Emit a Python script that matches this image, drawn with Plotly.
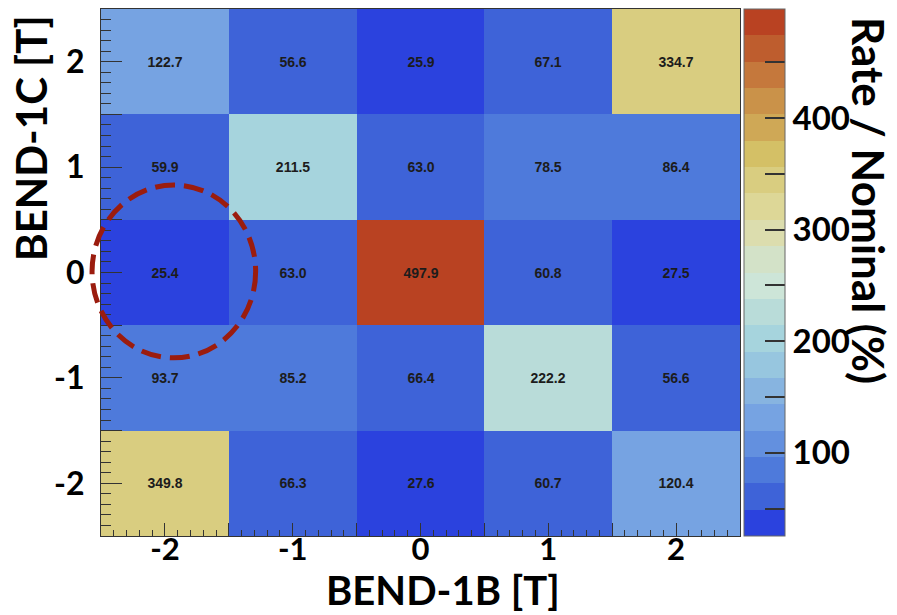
import plotly.graph_objects as go

# ---- data ----
bend_1b = [-2, -1, 0, 1, 2]          # x categories [T]
bend_1c = [-2, -1, 0, 1, 2]          # y categories [T]
rate_row_m2 = [349.8, 66.3, 27.6, 60.7, 120.4]
rate_row_m1 = [93.7, 85.2, 66.4, 222.2, 56.6]
rate_row_0 = [25.4, 63.0, 497.9, 60.8, 27.5]
rate_row_p1 = [59.9, 211.5, 63.0, 78.5, 86.4]
rate_row_p2 = [122.7, 56.6, 25.9, 67.1, 334.7]
z = [rate_row_m2, rate_row_m1, rate_row_0, rate_row_p1, rate_row_p2]

axis_tickvals = [-2.5, -2, -1.5, -1, -0.5, 0, 0.5, 1, 1.5, 2, 2.5]
axis_ticktext = ["", "-2", "", "-1", "", "0", "", "1", "", "2", ""]
cbar_tickvals = [50, 100, 150, 200, 250, 300, 350, 400, 450]
cbar_ticktext = ["", "100", "", "200", "", "300", "", "400", ""]

# ---- discrete 20-level palette (bottom -> top) ----
band_colors = ["#2B42DE", "#3E63D8", "#4E7ADB", "#6390DF", "#76A3E2",
               "#87B4E0", "#97C6DF", "#A6D4DD", "#B9DCD9", "#CDE5D8",
               "#D3E2C8", "#DCDDAE", "#DDD797", "#D9CD80", "#D4C066",
               "#CFA856", "#CA9249", "#C5783C", "#BE5D2E", "#B94222"]
n = len(band_colors)
colorscale = []
for i, c in enumerate(band_colors):
    colorscale.append([i / n, c])
    colorscale.append([(i + 1) / n, c])

zmin = min(min(r) for r in z)
zmax = max(max(r) for r in z)

FONT = "Lato"
fig = go.Figure()
fig.add_trace(go.Heatmap(
    x=bend_1b, y=bend_1c, z=z,
    zmin=zmin, zmax=zmax,
    colorscale=colorscale,
    texttemplate="%{z:.1f}",
    textfont=dict(family="Liberation Sans", size=14, color="#1c1c1c", weight="bold"),
    colorbar=dict(
        x=(744 - 101) / 639, xanchor="left", xpad=0, ypad=0,
        y=0.5, yanchor="middle", len=1, lenmode="fraction",
        thickness=41, thicknessmode="pixels",
        outlinewidth=1, outlinecolor="#666",
        tickmode="array", tickvals=cbar_tickvals, ticktext=cbar_ticktext,
        ticks="inside", ticklen=20, tickwidth=1.5, tickcolor="#333",
        tickfont=dict(family=FONT, size=33, color="black", weight="bold"),
    ),
))

fig.update_xaxes(
    range=[-2.5, 2.5], tickmode="array", tickvals=axis_tickvals, ticktext=axis_ticktext,
    ticks="inside", ticklen=13, tickwidth=1.2, tickcolor="#333",
    minor=dict(tickmode="linear", tick0=0, dtick=0.1, ticks="inside", ticklen=6,
               tickwidth=1, tickcolor="#333"),
    showline=True, linecolor="#333", linewidth=1, mirror=True,
    showgrid=False, zeroline=False, ticklabelstandoff=-14,
    tickfont=dict(family=FONT, size=31, color="black", weight="bold"),
)
fig.update_yaxes(
    range=[-2.5, 2.5], tickmode="array", tickvals=axis_tickvals, ticktext=axis_ticktext,
    ticks="inside", ticklen=21, tickwidth=1.2, tickcolor="#333",
    minor=dict(tickmode="linear", tick0=0, dtick=0.1, ticks="inside", ticklen=10,
               tickwidth=1, tickcolor="#333"),
    showline=True, linecolor="#333", linewidth=1, mirror=True,
    showgrid=False, zeroline=False, ticklabelstandoff=9,
    tickfont=dict(family=FONT, size=32, color="black", weight="bold"),
)

# dashed highlight ellipse around cell (-2, 0)
cx, cy, rx, ry = -1.93, 0.01, 0.64, 0.82
def to_px(vx):
    return (vx + 2.5) / 5.0
fig.add_shape(type="circle", xref="paper", yref="paper",
              x0=to_px(cx - rx), x1=to_px(cx + rx),
              y0=to_px(cy - ry), y1=to_px(cy + ry),
              line=dict(color="#9B1C0E", width=5, dash="20px,9px"))

title_font = dict(family=FONT, size=42, color="black", weight="bold")
fig.add_annotation(text="BEND-1B [T]", xref="paper", yref="paper",
                   x=(443 - 101) / 639, y=(536 - 590) / 527, xanchor="center", yanchor="middle",
                   showarrow=False, font=dict(family=FONT, size=40, color="black", weight="bold"))
fig.add_annotation(text="BEND-1C [T]", xref="paper", yref="paper",
                   x=(31 - 101) / 639, y=(536 - 138) / 527, xanchor="center", yanchor="middle",
                   textangle=-90, showarrow=False, font=title_font)
fig.add_annotation(text="Rate / Nominal (%)", xref="paper", yref="paper",
                   x=(869 - 101) / 639, y=(536 - 200) / 527, xanchor="center", yanchor="middle",
                   textangle=90, showarrow=False,
                   font=dict(family=FONT, size=44, color="black", weight="bold"))

fig.update_layout(
    width=897, height=615,
    margin=dict(l=101, r=157, t=9, b=79),
    paper_bgcolor="white", plot_bgcolor="white",
    showlegend=False,
)
fig.write_html("out.html")
